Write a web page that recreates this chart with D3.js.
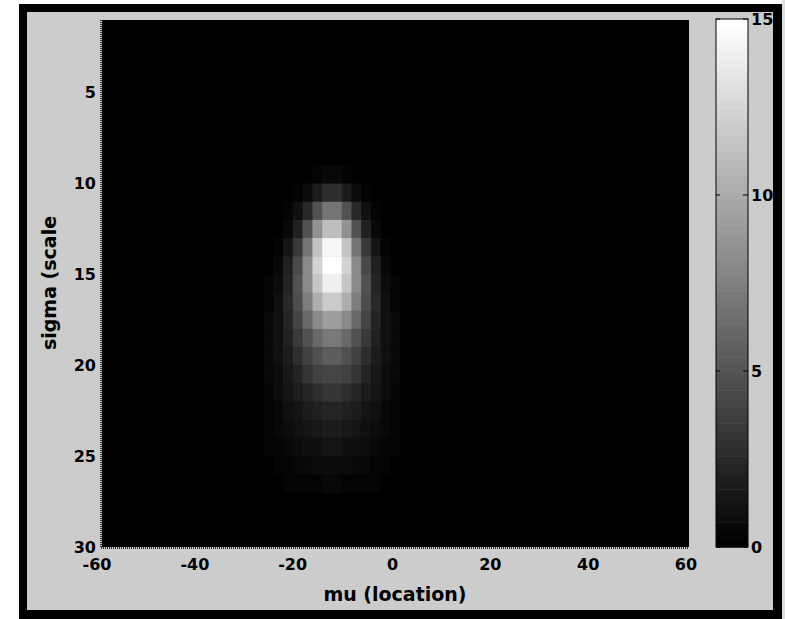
<!DOCTYPE html>
<html>
<head>
<meta charset="utf-8">
<script src="https://cdn.jsdelivr.net/npm/d3@7"></script>
<style>
body { margin: 0; background: #fff; }
svg text { font-family: "DejaVu Sans", sans-serif; font-weight: bold; fill: #000; }
</style>
</head>
<body>
<div id="chart"></div>
<script>
// centres of the mu cells (each cell is 2 wide), everything else is 0
var muCenters = [-28, -26, -24, -22, -20, -18, -16, -14, -12, -10, -8, -6, -4, -2, 0, 2];
// lower edge of each sigma row (each row is 1 high)
var sigmaRows = [9, 10, 11, 12, 13, 14, 15, 16, 17, 18, 19, 20, 21, 22, 23, 24, 25, 26];
var values = [
    [0, 0, 0, 0, 0.03, 0.14, 0.37, 0.6, 0.6, 0.37, 0.14, 0.03, 0, 0, 0, 0],
    [0, 0, 0.01, 0.05, 0.24, 0.79, 1.75, 2.6, 2.6, 1.75, 0.79, 0.24, 0.05, 0.01, 0, 0],
    [0, 0, 0.05, 0.25, 0.94, 2.5, 4.9, 6.8, 6.8, 4.9, 2.5, 0.94, 0.25, 0.05, 0, 0],
    [0, 0.03, 0.17, 0.69, 2.1, 4.9, 8.5, 11.2, 11.2, 8.5, 4.9, 2.1, 0.69, 0.17, 0.03, 0],
    [0, 0.1, 0.4, 1.3, 3.4, 7.0, 11.3, 14.3, 14.3, 11.3, 7.0, 3.4, 1.3, 0.4, 0.1, 0],
    [0.05, 0.19, 0.67, 1.9, 4.3, 8.1, 12.2, 15.0, 15.0, 12.2, 8.1, 4.3, 1.9, 0.67, 0.19, 0.05],
    [0.09, 0.31, 0.92, 2.3, 4.7, 8.1, 11.7, 14.0, 14.0, 11.7, 8.1, 4.7, 2.3, 0.92, 0.31, 0.09],
    [0.13, 0.41, 1.07, 2.4, 4.5, 7.3, 10.1, 11.8, 11.8, 10.1, 7.3, 4.5, 2.4, 1.07, 0.41, 0.13],
    [0.17, 0.47, 1.1, 2.2, 4.0, 6.1, 8.1, 9.3, 9.3, 8.1, 6.1, 4.0, 2.2, 1.1, 0.47, 0.17],
    [0.2, 0.5, 1.07, 2.0, 3.4, 4.9, 6.3, 7.2, 7.2, 6.3, 4.9, 3.4, 2.0, 1.07, 0.5, 0.2],
    [0.22, 0.5, 0.98, 1.75, 2.8, 3.9, 4.9, 5.5, 5.5, 4.9, 3.9, 2.8, 1.75, 0.98, 0.5, 0.22],
    [0.23, 0.47, 0.89, 1.5, 2.3, 3.1, 3.8, 4.2, 4.2, 3.8, 3.1, 2.3, 1.5, 0.89, 0.47, 0.23],
    [0.22, 0.43, 0.76, 1.2, 1.8, 2.3, 2.8, 3.1, 3.1, 2.8, 2.3, 1.8, 1.2, 0.76, 0.43, 0.22],
    [0.21, 0.38, 0.63, 0.97, 1.4, 1.8, 2.1, 2.3, 2.3, 2.1, 1.8, 1.4, 0.97, 0.63, 0.38, 0.21],
    [0.19, 0.32, 0.52, 0.77, 1.06, 1.34, 1.57, 1.7, 1.7, 1.57, 1.34, 1.06, 0.77, 0.52, 0.32, 0.19],
    [0.16, 0.26, 0.4, 0.58, 0.78, 0.96, 1.12, 1.2, 1.2, 1.12, 0.96, 0.78, 0.58, 0.4, 0.26, 0.16],
    [0.1, 0.18, 0.27, 0.4, 0.5, 0.7, 0.79, 0.85, 0.85, 0.79, 0.7, 0.5, 0.4, 0.27, 0.18, 0.1],
    [0.05, 0.1, 0.18, 0.26, 0.33, 0.4, 0.45, 0.6, 0.6, 0.45, 0.4, 0.33, 0.26, 0.18, 0.1, 0.05]
];
var xTicks = [-60, -40, -20, 0, 20, 40, 60];
var yTicks = [5, 10, 15, 20, 25, 30];
var cbTicks = [0, 5, 10, 15];

var width = 785, height = 619;
var plot = {left: 102, right: 689, top: 20, bottom: 547};
var cb = {left: 716, right: 748, top: 19, bottom: 547};

var svg = d3.select("#chart").append("svg")
    .attr("width", width)
    .attr("height", height);

// figure frame: black border round a gray panel
svg.append("rect").attr("x", 19).attr("y", 4).attr("width", 763).attr("height", 615).attr("fill", "#000");
svg.append("rect").attr("x", 27).attr("y", 12).attr("width", 746).attr("height", 598).attr("fill", "#cccccc");
svg.append("rect").attr("x", 782).attr("y", 0).attr("width", 3).attr("height", height).attr("fill", "#dedede");

var x = d3.scaleLinear().domain([-60, 60]).range([plot.left, plot.right]);
var y = d3.scaleLinear().domain([1, 30]).range([plot.top, plot.bottom]);

// gray(64) style colormap
var grays = d3.range(64).map(function (i) {
    var g = Math.round(i / 63 * 255);
    return d3.rgb(g, g, g).formatHex();
});
var color = d3.scaleQuantize().domain([0, 15]).range(grays);

// plot background (value 0)
svg.append("rect")
    .attr("x", plot.left).attr("y", plot.top)
    .attr("width", plot.right - plot.left).attr("height", plot.bottom - plot.top)
    .attr("fill", color(0));

var cells = [];
sigmaRows.forEach(function (s, r) {
    muCenters.forEach(function (m, c) {
        cells.push({mu: m, sigma: s, v: values[r][c]});
    });
});

svg.append("g").selectAll("rect")
    .data(cells)
    .enter()
    .append("rect")
    .attr("x", d => x(d.mu - 1))
    .attr("y", d => y(d.sigma))
    .attr("width", d => x(d.mu + 1) - x(d.mu - 1) + 0.5)
    .attr("height", d => y(d.sigma + 1) - y(d.sigma) + 0.5)
    .attr("fill", d => color(d.v));

// dotted axis lines (left and bottom)
svg.append("line")
    .attr("x1", plot.left - 1).attr("x2", plot.left - 1)
    .attr("y1", plot.top).attr("y2", plot.bottom + 1)
    .attr("stroke", "#000").attr("stroke-width", 1.5).attr("stroke-dasharray", "1,1");
svg.append("line")
    .attr("x1", plot.left - 1).attr("x2", plot.right)
    .attr("y1", plot.bottom + 1).attr("y2", plot.bottom + 1)
    .attr("stroke", "#000").attr("stroke-width", 1.5).attr("stroke-dasharray", "1,1");

// tick labels
svg.selectAll(".xlab")
    .data(xTicks)
    .enter()
    .append("text")
    .attr("class", "xlab")
    .attr("x", d => x(d) + (d < 0 ? -5 : -3))
    .attr("y", 570)
    .attr("text-anchor", "middle")
    .style("font-size", "16px")
    .text(d => d < 0 ? "-" + Math.abs(d) : d);

svg.selectAll(".ylab")
    .data(yTicks)
    .enter()
    .append("text")
    .attr("class", "ylab")
    .attr("x", 96)
    .attr("y", d => y(d))
    .attr("dy", "0.36em")
    .attr("text-anchor", "end")
    .style("font-size", "16px")
    .text(d => d);

// axis titles
svg.append("text")
    .attr("x", 395)
    .attr("y", 601)
    .attr("text-anchor", "middle")
    .style("font-size", "19px")
    .text("mu (location)");

svg.append("text")
    .attr("transform", "translate(56,283) rotate(-90)")
    .attr("text-anchor", "middle")
    .style("font-size", "19px")
    .text("sigma (scale");

// colorbar
var cy = d3.scaleLinear().domain([0, 15]).range([cb.bottom, cb.top]);
var step = 15 / 64;
svg.append("g").selectAll("rect")
    .data(d3.range(64))
    .enter()
    .append("rect")
    .attr("x", cb.left)
    .attr("y", i => cy((i + 1) * step))
    .attr("width", cb.right - cb.left)
    .attr("height", i => cy(i * step) - cy((i + 1) * step) + 0.5)
    .attr("fill", i => grays[i]);

svg.append("rect")
    .attr("x", cb.left).attr("y", cb.top)
    .attr("width", cb.right - cb.left).attr("height", cb.bottom - cb.top)
    .attr("fill", "none")
    .attr("stroke", "#000")
    .attr("stroke-width", 1);

var cbt = svg.append("g").selectAll("g")
    .data(cbTicks)
    .enter()
    .append("g");
cbt.append("line")
    .attr("x1", cb.left).attr("x2", cb.left + 4)
    .attr("y1", d => cy(d)).attr("y2", d => cy(d))
    .attr("stroke", "#000");
cbt.append("line")
    .attr("x1", cb.right - 5).attr("x2", cb.right)
    .attr("y1", d => cy(d)).attr("y2", d => cy(d))
    .attr("stroke", "#000");
cbt.append("text")
    .attr("x", 751)
    .attr("y", d => cy(d))
    .attr("dy", "0.36em")
    .style("font-size", "16px")
    .text(d => d);
</script>
</body>
</html>
